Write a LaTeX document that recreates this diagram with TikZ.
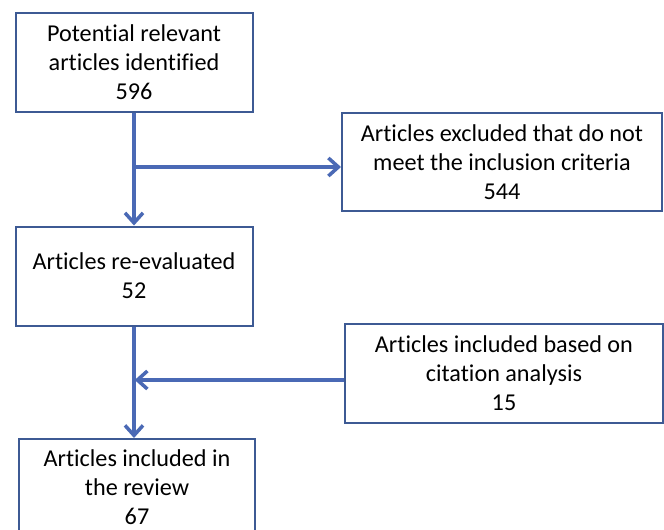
\documentclass[tikz,border=0pt]{standalone}
\usepackage{fontspec}
\setmainfont{Carlito}[Ligatures=CommonOff]
\usetikzlibrary{arrows.meta,calc}
\definecolor{boxline}{HTML}{3D5A94}
\definecolor{arrline}{HTML}{4A69B5}
\begin{document}
\begin{tikzpicture}[x=1pt,y=1pt,
  box/.style={draw=boxline,line width=2pt,fill=white,align=center,inner sep=0pt,
    font=\fontsize{24.2}{29}\selectfont},
  arr/.style={draw=arrline,line width=3.5pt,-{Straight Barb[length=10pt,width=18pt,line width=3.5pt]}},
  conn/.style={draw=arrline,line width=3.5pt}]
\clip (0,0) rectangle (664,-530);
\fill[white] (0,0) rectangle (664,-530);
\node[box,minimum width=237pt,minimum height=99pt] (b1) at (134,-62.5)
  {Potential relevant\\articles identified\\596};
\node[box,minimum width=320pt,minimum height=98pt] (b2) at (502,-162)
  {Articles excluded that do not\\meet the inclusion criteria\\544};
\node[box,minimum width=237pt,minimum height=99pt] (b3) at (134,-276)
  {Articles re-evaluated\\52};
\node[box,minimum width=318pt,minimum height=99pt] (b4) at (504,-373.5)
  {Articles included based on\\citation analysis\\15};
\node[box,minimum width=236pt,minimum height=96pt] (b5) at (137,-487)
  {Articles included in\\the review\\67};
\coordinate (j1) at (134,-167);
\coordinate (j2) at (134,-380);
\draw[arr] (b1.south) -- (b3.north);
\draw[arr] (j1) -- (b2.west |- j1);
\draw[arr] (b3.south) -- (b3.south |- b5.north);
\draw[arr,shorten >=-1pt] (b4.west |- j2) -- ($(j2)+(1.75,0)$);
\end{tikzpicture}
\end{document}
